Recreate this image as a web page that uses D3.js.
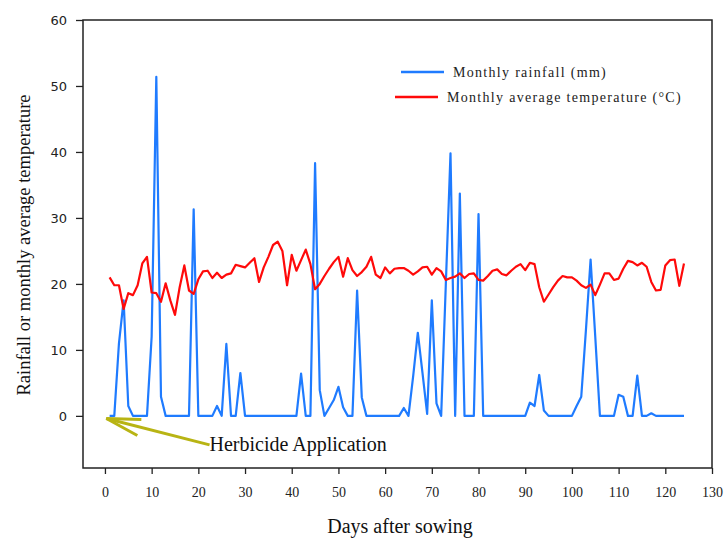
<html>
  <head>
    <meta charset="utf-8" />
    <title>Rainfall and temperature</title>
    <script src="https://d3js.org/d3.v7.min.js"></script>
    <style>
      body {
        margin: 0;
        background: white;
      }
      .frame {
        fill: none;
        stroke: #222;
        stroke-width: 1.5px;
      }
      .axis path {
        display: none;
      }
      .axis line {
        stroke: #222;
        stroke-width: 1.3px;
      }
      .x.axis text {
        font-family: "Liberation Serif", serif;
        font-size: 14px;
        fill: #222;
      }
      .y.axis text {
        font-family: "DejaVu Sans", sans-serif;
        font-size: 13px;
        fill: #222;
      }
      .title {
        font-family: "Liberation Serif", serif;
        fill: #111;
      }
      .legend text {
        font-family: "Liberation Serif", serif;
        font-size: 14px;
        letter-spacing: 1.3px;
        fill: #222;
      }
    </style>
  </head>

  <body>
    <svg width="725" height="540" id="chart"></svg>

    <script>
      // day after sowing for each reading
      const days = d3.range(1, 125);

      // rainfall (mm)
      const rainfall = [
        0, 0, 11, 17.5, 1.5, 0, 0, 0, 0, 12,
        51.4, 2.9, 0, 0, 0, 0, 0, 0, 31.3, 0,
        0, 0, 0, 1.5, 0, 10.9, 0, 0, 6.5, 0,
        0, 0, 0, 0, 0, 0, 0, 0, 0, 0,
        0, 6.4, 0, 0, 38.3, 3.9, 0, 1.2, 2.4, 4.4,
        1.3, 0, 0, 19, 2.8, 0, 0, 0, 0, 0,
        0, 0, 0, 1.2, 0, 6, 12.6, 6.5, 0.3, 17.5,
        1.9, 0, 20, 39.8, 0, 33.7, 0, 0, 0, 30.6,
        0, 0, 0, 0, 0, 0, 0, 0, 0, 0,
        2.0, 1.5, 6.2, 0.8, 0, 0, 0, 0, 0, 0,
        1.5, 2.9, 13, 23.7, 12, 0, 0, 0, 0, 3.2,
        2.9, 0, 0, 6.1, 0, 0, 0.4, 0, 0, 0,
        0, 0, 0, 0,
      ];

      // average temperature (deg C)
      const temperature = [
        21.0, 19.8, 19.8, 16.2, 18.6, 18.3, 19.8, 23.1, 24.1, 18.7,
        18.6, 17.3, 20.1, 17.5, 15.3, 19.5, 22.8, 19.0, 18.5, 20.7,
        21.9, 22.0, 20.9, 21.7, 20.9, 21.4, 21.6, 22.9, 22.7, 22.5,
        23.2, 23.9, 20.3, 22.5, 24.1, 25.9, 26.4, 25.0, 19.8, 24.4,
        22.0, 23.6, 25.2, 23.0, 19.2, 20.0, 21.2, 22.3, 23.3, 24.1,
        21.1, 23.9, 22.1, 21.2, 21.8, 22.6, 24.1, 21.4, 20.9, 22.5,
        21.6, 22.3, 22.4, 22.4, 22.0, 21.4, 21.9, 22.5, 22.6, 21.4,
        22.4, 21.9, 20.6, 20.9, 21.1, 21.6, 20.9, 21.5, 21.6, 20.6,
        20.5, 21.2, 22.0, 22.2, 21.5, 21.3, 22.0, 22.6, 23.0, 22.1,
        23.2, 23.0, 19.5, 17.3, 18.4, 19.5, 20.5, 21.2, 21.0, 21.0,
        20.5, 19.8, 19.4, 19.9, 18.3, 19.9, 21.6, 21.6, 20.6, 20.8,
        22.3, 23.5, 23.3, 22.8, 23.2, 22.6, 20.3, 19.0, 19.1, 22.8,
        23.6, 23.7, 19.7, 23.1,
      ];

      const xTicks = [0, 10, 20, 30, 40, 50, 60, 70, 80, 90, 100, 110, 120, 130];
      const yTicks = [0, 10, 20, 30, 40, 50, 60];
      const seriesNames = ["Monthly rainfall (mm)", "Monthly average temperature (\u00B0C)"];
      const seriesColors = ["#1f7bff", "#ff0a0a"];

      const svg = d3.select("svg#chart");
      const margin = { top: 20, right: 13, bottom: 72, left: 83 };
      const width = +svg.attr("width");
      const height = +svg.attr("height");

      const xScale = d3
        .scaleLinear()
        .domain([-4.7, 130])
        .range([margin.left, width - margin.right]);
      const yScale = d3
        .scaleLinear()
        .domain([-7.9, 60])
        .range([height - margin.bottom, margin.top]);

      // axes (ticks point outwards, the frame is drawn as a rect)
      svg
        .append("g")
        .attr("class", "x axis")
        .attr("transform", `translate(0,${height - margin.bottom})`)
        .call(d3.axisBottom(xScale).tickValues(xTicks).tickSize(6).tickPadding(13));

      svg
        .append("g")
        .attr("class", "y axis")
        .attr("transform", `translate(${margin.left},0)`)
        .call(d3.axisLeft(yScale).tickValues(yTicks).tickSize(7).tickPadding(9));

      svg
        .append("rect")
        .attr("class", "frame")
        .attr("x", margin.left)
        .attr("y", margin.top)
        .attr("width", width - margin.left - margin.right)
        .attr("height", height - margin.top - margin.bottom);

      const line = d3
        .line()
        .x((d) => xScale(d[0]))
        .y((d) => yScale(d[1]));

      const series = [rainfall, temperature];
      svg
        .selectAll("path.series")
        .data(series)
        .join("path")
        .attr("class", "series")
        .attr("fill", "none")
        .attr("stroke", (d, i) => seriesColors[i])
        .attr("stroke-width", 2.2)
        .attr("stroke-linejoin", "round")
        .attr("d", (d) => line(days.map((day, i) => [day, d[i]])));

      // legend
      const legend = svg.append("g").attr("class", "legend");
      const legendRows = legend
        .selectAll("g")
        .data(seriesNames)
        .join("g")
        .attr("transform", (d, i) => `translate(${i == 0 ? 401 : 395},${72 + i * 25})`);
      legendRows
        .append("line")
        .attr("x1", 0)
        .attr("x2", 43)
        .attr("stroke", (d, i) => seriesColors[i])
        .attr("stroke-width", 2.5);
      legendRows
        .append("text")
        .attr("x", 52)
        .attr("y", 5)
        .text((d) => d);

      // herbicide annotation arrow
      const tip = [xScale(0.3), yScale(-0.4)];
      const tail = [xScale(22.4), yScale(-4.4)];
      const arrowColor = "#b8b414";
      svg
        .append("line")
        .attr("x1", tail[0])
        .attr("y1", tail[1])
        .attr("x2", tip[0])
        .attr("y2", tip[1])
        .attr("stroke", arrowColor)
        .attr("stroke-width", 3);
      svg
        .append("path")
        .attr("d", `M${tip[0] + 35},${tip[1] + 1} L${tip[0]},${tip[1]} L${tip[0] + 31},${tip[1] + 17}`)
        .attr("fill", "none")
        .attr("stroke", arrowColor)
        .attr("stroke-width", 3)
        .attr("stroke-linejoin", "miter");
      svg
        .append("text")
        .attr("class", "title")
        .attr("x", tail[0])
        .attr("y", tail[1] + 6)
        .attr("font-size", "20px")
        .text("Herbicide Application");

      // axis titles
      svg
        .append("text")
        .attr("class", "title")
        .attr("x", 400)
        .attr("y", 533)
        .attr("text-anchor", "middle")
        .attr("font-size", "20px")
        .text("Days after sowing");

      svg
        .append("text")
        .attr("class", "title")
        .attr("transform", "translate(30,245) rotate(-90)")
        .attr("text-anchor", "middle")
        .attr("font-size", "18.5px")
        .text("Rainfall or monthly average temperature");
    </script>
  </body>
</html>
